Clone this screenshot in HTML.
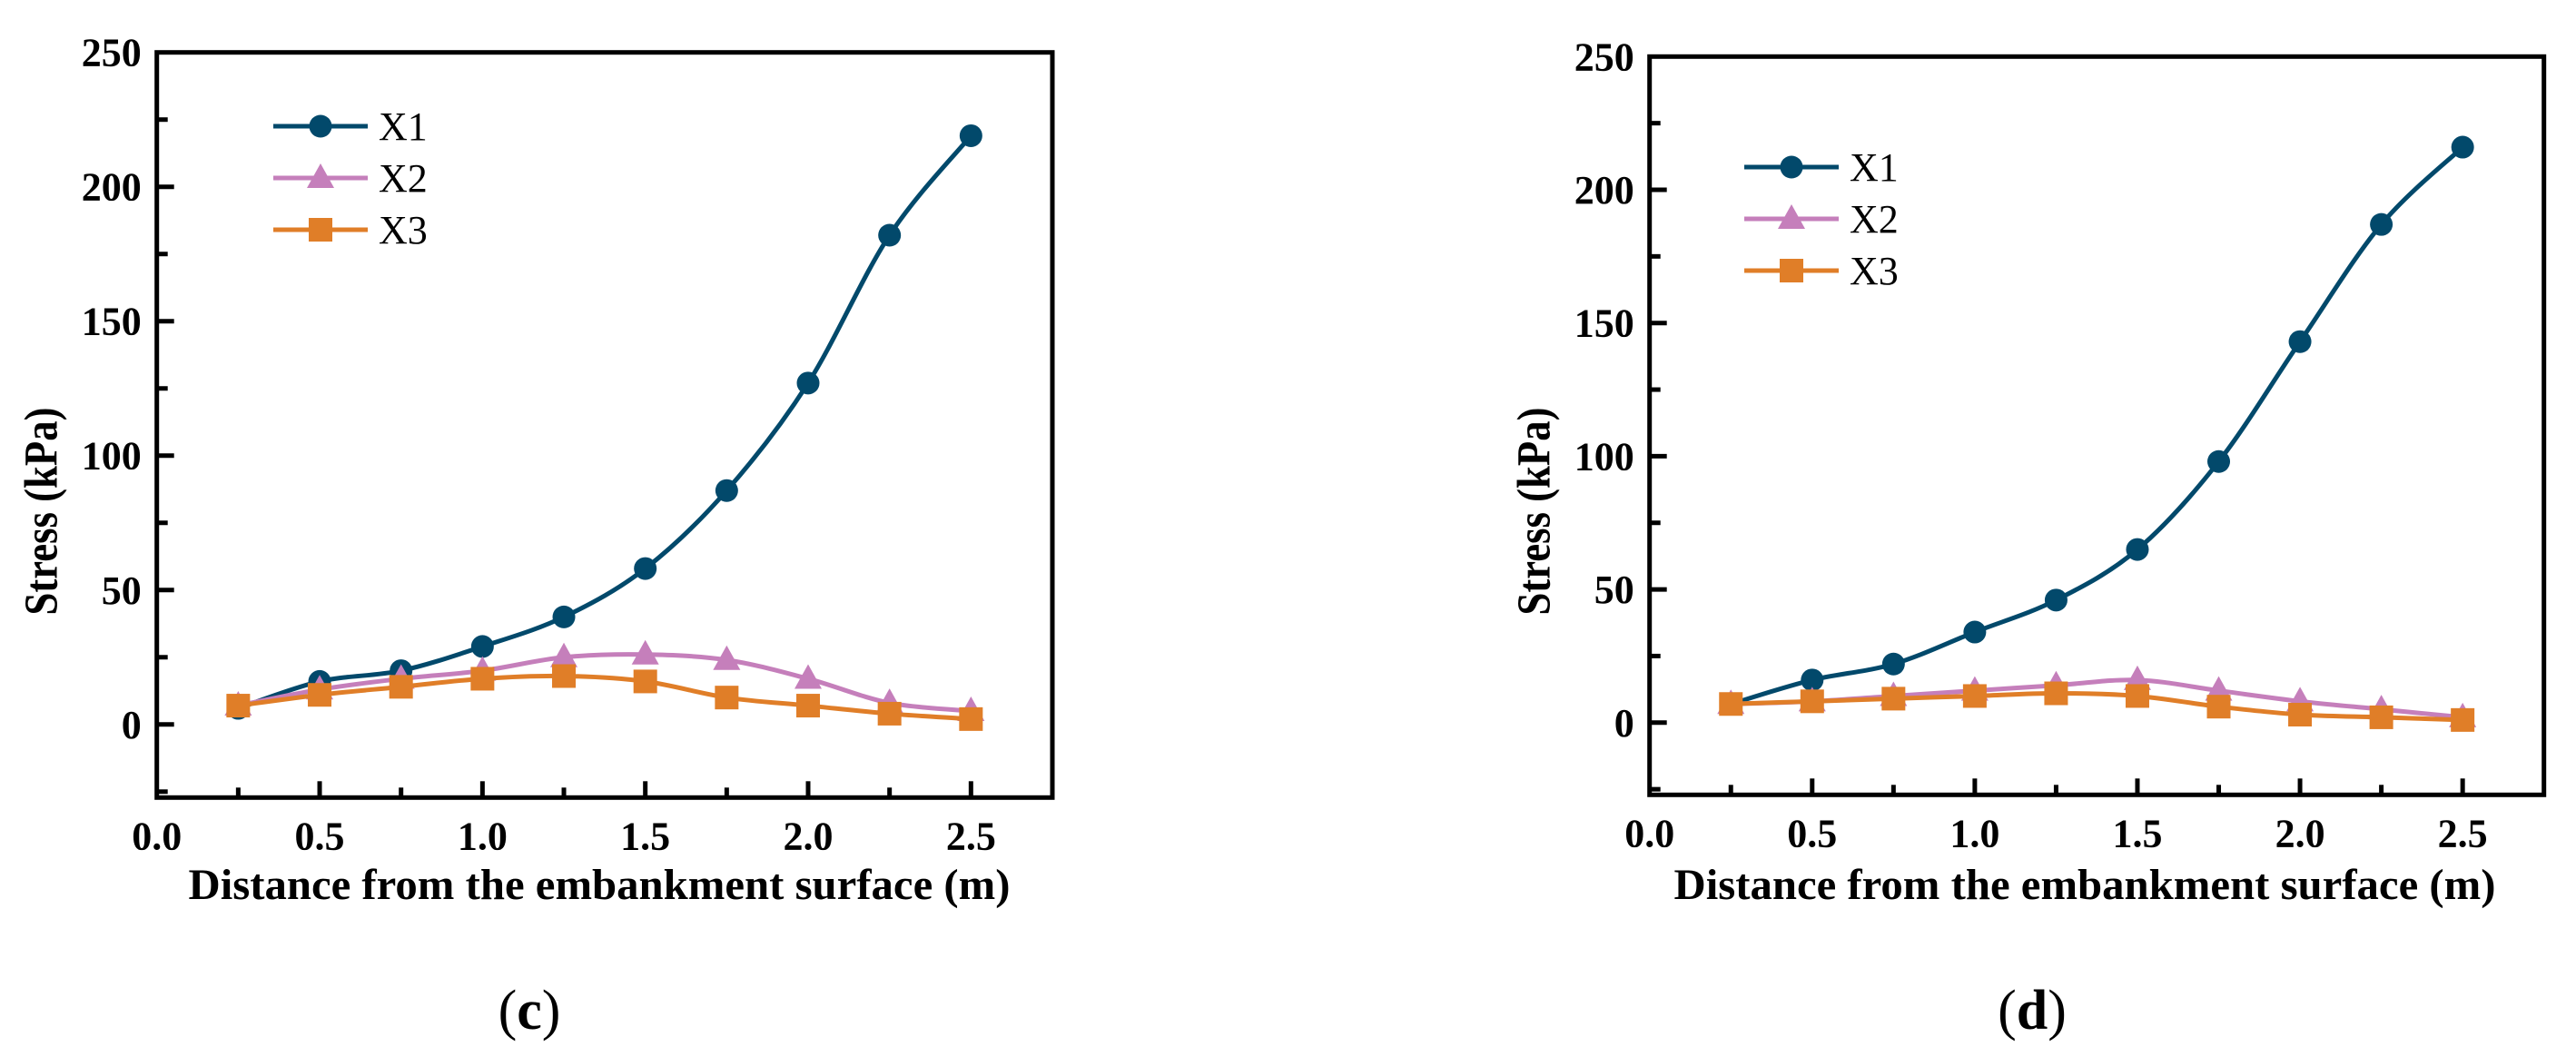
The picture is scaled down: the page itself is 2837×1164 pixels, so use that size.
<!DOCTYPE html>
<html><head><meta charset="utf-8"><style>
html,body{margin:0;padding:0;background:#fff}
svg{display:block}
text{font-family:"Liberation Serif",serif;fill:#000}
</style></head><body>
<svg id="fig" width="2837" height="1164" viewBox="0 0 2837 1164" xmlns="http://www.w3.org/2000/svg"></svg>
<script>
const categories = [0.25,0.5,0.75,1.0,1.25,1.5,1.75,2.0,2.25,2.5];
const seriesNames = ["X1","X2","X3"];
const cX1 = [6,16,20,29,40,58,87,127,182,219];
const cX2 = [7,13,17,20,25,26,24,17,8,5];
const cX3 = [7,11,14,17,18,16,10,7,4,2];
const dX1 = [7,16,22,34,46,65,98,143,187,216];
const dX2 = [7,8,10,12,14,16,12,8,5,2];
const dX3 = [7,8,9,10,11,10,6,3,2,1];
const xTickLabels = ["0.0","0.5","1.0","1.5","2.0","2.5"];
const yTickLabels = ["0","50","100","150","200","250"];

const NS="http://www.w3.org/2000/svg";
const svg=document.getElementById('fig');
const colors=["#02496b","#c57fbb","#e07e28"];
function mk(tag,attrs,parent){const e=document.createElementNS(NS,tag);for(const k in attrs)e.setAttribute(k,attrs[k]);(parent||svg).appendChild(e);return e;}

function spline(pts){
  let d=`M${pts[0][0]},${pts[0][1]}`;
  for(let i=0;i<pts.length-1;i++){
    const p0=pts[Math.max(0,i-1)],p1=pts[i],p2=pts[i+1],p3=pts[Math.min(pts.length-1,i+2)];
    const c1=[p1[0]+(p2[0]-p0[0])/6,p1[1]+(p2[1]-p0[1])/6];
    const c2=[p2[0]-(p3[0]-p1[0])/6,p2[1]-(p3[1]-p1[1])/6];
    d+=` C${c1[0]},${c1[1]} ${c2[0]},${c2[1]} ${p2[0]},${p2[1]}`;
  }
  return d;
}
function marker(g,k,x,y){
  let m;
  if(k===0){m=mk('circle',{cx:x,cy:y,r:12.5,fill:colors[0]},g);}
  else if(k===1){m=mk('polygon',{points:`${x},${y-16} ${x+15},${y+11} ${x-15},${y+11}`,fill:colors[1]},g);}
  else {m=mk('rect',{x:x-13,y:y-13,width:26,height:26,fill:colors[2]},g);}
  
  
}

function panel(cfg){
  const {L,T,R,B,ymin,series,tag,lx,ly,label,labelX,xlabX}=cfg;
  const xmax=2.75,ymax=250;
  const sx=v=>L+(v/xmax)*(R-L);
  const sy=v=>B-(v-ymin)/(ymax-ymin)*(B-T);
  const g=mk('g',{});
  
  
  // series
  series.forEach((vals,k)=>{
    const pts=categories.map((c,i)=>[sx(c),sy(vals[i])]);
    const sg=mk('g',{},g);
    
    
    const p=mk('path',{d:spline(pts),fill:'none',stroke:colors[k],'stroke-width':5},sg);
    
    
    pts.forEach(q=>marker(sg,k,q[0],q[1]));
  });
  // axes box
  const box=mk('rect',{x:L,y:T,width:R-L,height:B-T,fill:'none',stroke:'#000','stroke-width':5},g);
  
  
  // x ticks
  for(let i=0;i<=10;i++){
    const v=i*0.25, x=sx(v), major=i%2===0;
    if(i>0){const t=mk('line',{x1:x,x2:x,y1:B,y2:B-(major?18:11),stroke:'#000','stroke-width':5},g);
      }
    if(major){const tx=mk('text',{x:x,y:B+57,'text-anchor':'middle','font-size':44,'font-weight':'bold'},g);
      tx.textContent=xTickLabels[i/2];
      }
  }
  // y ticks
  for(let v=-25;v<=225;v+=25){
    const y=sy(v), major=v%50===0;
    const t=mk('line',{x1:L,x2:L+(major?19:12),y1:y,y2:y,stroke:'#000','stroke-width':5},g);
    
  }
  yTickLabels.forEach((s,i)=>{
    const y=sy(i*50);
    const tx=mk('text',{x:L-17,y:y+15,'text-anchor':'end','font-size':44,'font-weight':'bold'},g);
    tx.textContent=s;
    
  });
  // axis titles
  const yt=mk('text',{x:0,y:0,'text-anchor':'middle','font-size':52,'font-weight':'bold',transform:`translate(${L-110},563) rotate(-90)`,textLength:229,lengthAdjust:'spacingAndGlyphs'},g);
  yt.textContent='Stress (kPa)';
  
  const xt=mk('text',{x:xlabX,y:990,'text-anchor':'middle','font-size':48,'font-weight':'bold',textLength:905,lengthAdjust:'spacingAndGlyphs'},g);
  xt.textContent='Distance from the embankment surface (m)';
  
  // legend
  const lg=mk('g',{},g);
  
  seriesNames.forEach((n,k)=>{
    const y=ly+k*57;
    const e=mk('g',{},lg);
    
    mk('line',{x1:lx,x2:lx+104,y1:y,y2:y,stroke:colors[k],'stroke-width':5},e);
    marker(e,k,lx+52,y);
    const t=mk('text',{x:lx+116,y:y+15,'font-size':44},e);
    t.textContent=n;
  });
  // panel label
  const pl=mk('text',{x:labelX,y:1133,'text-anchor':'middle','font-size':62},g);
  pl.innerHTML='(<tspan font-weight="bold">'+label+'</tspan>)';
  
}

panel({L:172.7,T:57.7,R:1159,B:878.3,ymin:-27.2,series:[cX1,cX2,cX3],tag:'c',lx:301,ly:139,label:'c',labelX:583,xlabX:660});
panel({L:1816.7,T:62.3,R:2801.7,B:875.3,ymin:-27.1,series:[dX1,dX2,dX3],tag:'d',lx:1921,ly:184,label:'d',labelX:2238,xlabX:2296});
</script>
</body></html>
